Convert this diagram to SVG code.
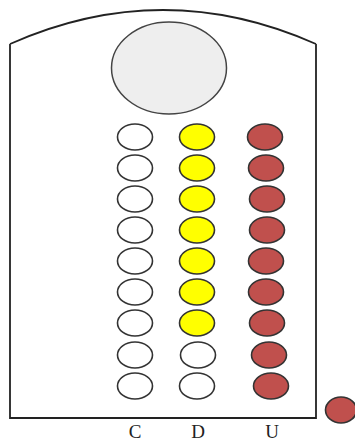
<svg xmlns="http://www.w3.org/2000/svg" width="355" height="446" viewBox="0 0 355 446">
<style>
.frame{fill:none;stroke:#222;stroke-width:1.8}
.b{stroke:#333;stroke-width:1.6}
.w{fill:#fff}
.y{fill:#ffff00}
.r{fill:#c0504d}
.lbl{font-family:"Liberation Serif",serif;font-size:19px;fill:#222;text-anchor:middle}
</style>
<rect width="355" height="446" fill="#fff"/>
<g id="container">
<path class="frame" d="M10 44 Q163 -24 316 44 M10 44 V418 H316 V44"/>
</g>
<g id="big-circle"><ellipse cx="169" cy="68" rx="57.5" ry="46" fill="#eeeeee" stroke="#444" stroke-width="1.5"/></g>
<g id="column-C">
<ellipse class="b w" cx="135" cy="137" rx="17.5" ry="13"/>
<ellipse class="b w" cx="135" cy="168" rx="17.5" ry="13"/>
<ellipse class="b w" cx="135" cy="199" rx="17.5" ry="13"/>
<ellipse class="b w" cx="135" cy="230" rx="17.5" ry="13"/>
<ellipse class="b w" cx="135" cy="261" rx="17.5" ry="13"/>
<ellipse class="b w" cx="135" cy="292" rx="17.5" ry="13"/>
<ellipse class="b w" cx="135" cy="323" rx="17.5" ry="13"/>
<ellipse class="b w" cx="135" cy="355" rx="17.5" ry="13"/>
<ellipse class="b w" cx="135" cy="386" rx="17.5" ry="13"/>
</g>
<g id="column-D">
<ellipse class="b y" cx="197" cy="137" rx="17.5" ry="13"/>
<ellipse class="b y" cx="197" cy="168" rx="17.5" ry="13"/>
<ellipse class="b y" cx="197" cy="199" rx="17.5" ry="13"/>
<ellipse class="b y" cx="197" cy="230" rx="17.5" ry="13"/>
<ellipse class="b y" cx="197" cy="261" rx="17.5" ry="13"/>
<ellipse class="b y" cx="197" cy="292" rx="17.5" ry="13"/>
<ellipse class="b y" cx="197" cy="323" rx="17.5" ry="13"/>
<ellipse class="b w" cx="198" cy="355" rx="17.5" ry="13"/>
<ellipse class="b w" cx="197" cy="386" rx="17.5" ry="13"/>
</g>
<g id="column-U">
<ellipse class="b r" cx="265" cy="137" rx="17.5" ry="13"/>
<ellipse class="b r" cx="266" cy="168" rx="17.5" ry="13"/>
<ellipse class="b r" cx="267" cy="199" rx="17.5" ry="13"/>
<ellipse class="b r" cx="267" cy="230" rx="17.5" ry="13"/>
<ellipse class="b r" cx="266" cy="261" rx="17.5" ry="13"/>
<ellipse class="b r" cx="266" cy="292" rx="17.5" ry="13"/>
<ellipse class="b r" cx="267" cy="323" rx="17.5" ry="13"/>
<ellipse class="b r" cx="269" cy="355" rx="17.5" ry="13"/>
<ellipse class="b r" cx="271" cy="386" rx="17.5" ry="13"/>
</g>
<g id="outside-ball"><ellipse class="b r" cx="341" cy="410" rx="15.5" ry="13"/></g>
<g id="labels">
<text class="lbl" x="135" y="438">C</text>
<text class="lbl" x="198" y="438">D</text>
<text class="lbl" x="272" y="438">U</text>
</g>
</svg>
